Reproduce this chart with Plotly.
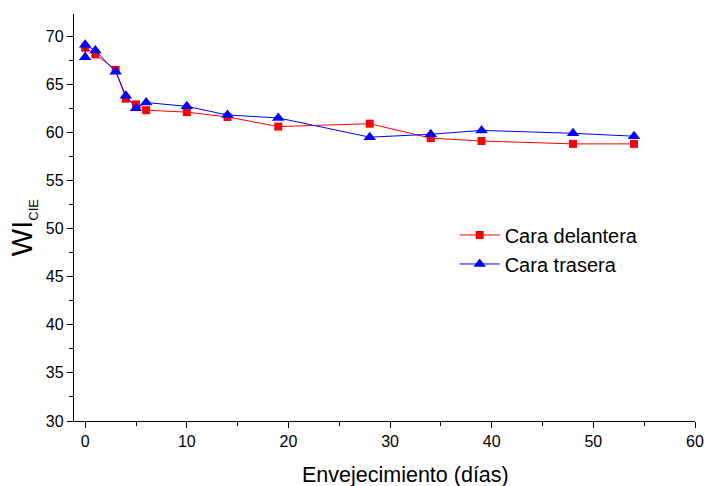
import plotly.graph_objects as go

# Ageing time (days) and whiteness index for each face
dias_delantera = [0, 1, 3, 4, 5, 6, 10, 14, 19, 28, 34, 39, 48, 54]
wi_delantera = [68.8, 68.1, 66.5, 63.5, 62.9, 62.3, 62.1, 61.6, 60.6, 60.9, 59.4, 59.1, 58.8, 58.8]

dias_trasera = [0, 0, 1, 3, 4, 5, 6, 10, 14, 19, 28, 34, 39, 48, 54]
wi_trasera = [67.8, 69.1, 68.5, 66.3, 63.8, 62.5, 63.1, 62.7, 61.8, 61.5, 59.5, 59.8, 60.2, 59.9, 59.6]

x_ticks = [0, 10, 20, 30, 40, 50, 60]
y_ticks = [30, 35, 40, 45, 50, 55, 60, 65, 70]

FONT = "Liberation Sans, Arial, sans-serif"

fig = go.Figure()
fig.add_trace(go.Scatter(
    x=dias_delantera, y=wi_delantera, mode="lines+markers", name="Cara delantera",
    line=dict(color="#ff0000", width=1),
    marker=dict(symbol="square", size=8, color="#ff0000"),
))
fig.add_trace(go.Scatter(
    x=dias_trasera, y=wi_trasera, mode="lines+markers", name="Cara trasera",
    line=dict(color="#0000ff", width=1),
    marker=dict(symbol="triangle-up", size=11, color="#0000ff"),
))

axis_common = dict(
    showgrid=False, zeroline=False, showline=True, linecolor="black", linewidth=1.3,
    ticks="outside", ticklen=6, tickwidth=1.3, tickcolor="black",
    tickfont=dict(family=FONT, size=16, color="black"), mirror=False,
    automargin=False,
)

fig.update_layout(
    width=708, height=486,
    margin=dict(l=74, r=13, t=14, b=65),
    paper_bgcolor="white", plot_bgcolor="white",
    font=dict(family=FONT, color="black"),
    xaxis=dict(
        range=[-1.1, 60], tickvals=x_ticks,
        minor=dict(tickvals=[5, 15, 25, 35, 45, 55], ticks="outside", ticklen=4, tickwidth=1.3, tickcolor="black"),
        **axis_common,
    ),
    yaxis=dict(
        range=[30, 72.3], tickvals=y_ticks,
        minor=dict(tickvals=[32.5, 37.5, 42.5, 47.5, 52.5, 57.5, 62.5, 67.5], ticks="outside", ticklen=4, tickwidth=1.3, tickcolor="black"),
        **axis_common,
    ),
    legend=dict(
        x=0.613, y=0.505, xanchor="left", yanchor="top",
        bgcolor="rgba(0,0,0,0)", font=dict(family=FONT, size=20, color="black"),
        itemwidth=40, tracegroupgap=0,
    ),
    showlegend=True,
)

# Axis titles
fig.add_annotation(
    text="Envejecimiento (días)", xref="paper", yref="paper",
    x=0.5346, y=-0.133, xanchor="center", yanchor="middle",
    showarrow=False, font=dict(family=FONT, size=21.5, color="black"),
)
fig.add_annotation(
    text='WI<sub><span style="font-size:13px">CIE</span></sub>', xref="paper", yref="paper",
    x=-0.082, y=0.474, xanchor="center", yanchor="middle", textangle=-90,
    showarrow=False, font=dict(family=FONT, size=29, color="black"),
)

fig.write_html("out.html")
